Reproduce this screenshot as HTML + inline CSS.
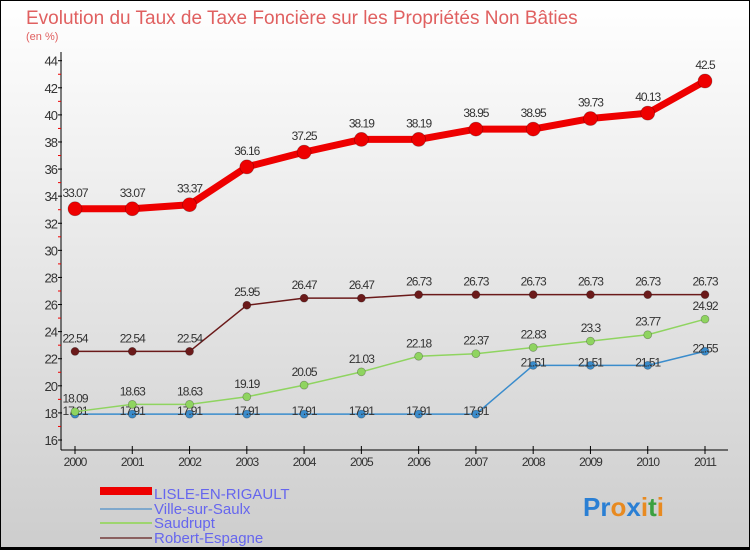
<!DOCTYPE html>
<html><head><meta charset="utf-8"><style>
body{margin:0}
#c{width:750px;height:550px;position:relative;overflow:hidden;font-family:"Liberation Sans",sans-serif}
</style></head><body>
<div id="c">
<svg id="s" width="750" height="550" xmlns="http://www.w3.org/2000/svg">
<defs><linearGradient id="bg" x1="0" y1="0" x2="0" y2="1"><stop offset="0" stop-color="#ffffff"/><stop offset="1" stop-color="#cdcdcd"/></linearGradient></defs>
<rect x="0.5" y="0.5" width="749" height="548" fill="url(#bg)" stroke="#000"/>
<rect x="0" y="547" width="750" height="3" fill="#000"/>
<text x="26" y="24" font-size="19" fill="#e06060">Evolution du Taux de Taxe Foncière sur les Propriétés Non Bâties</text>
<text x="26" y="40" font-size="11" fill="#e06060">(en %)</text>
<g id="axes"></g><g id="series"></g>
<g>
<rect x="100" y="487" width="52" height="8" fill="#ee0000"/>
<rect x="100" y="508" width="52" height="2" fill="#7fa8cc"/>
<rect x="100" y="522" width="52" height="2" fill="#9ed56f"/>
<rect x="100" y="537" width="52" height="2" fill="#8a6060"/>
<text x="154" y="499" font-size="15" fill="#6666ee">LISLE-EN-RIGAULT</text>
<text x="154" y="514" font-size="15" fill="#6666ee">Ville-sur-Saulx</text>
<text x="154" y="528" font-size="15" fill="#6666ee">Saudrupt</text>
<text x="154" y="543" font-size="15" fill="#6666ee">Robert-Espagne</text>
</g>
<g font-size="26" font-weight="bold">
<text x="583" y="516"><tspan fill="#2a7fd4">Pr</tspan><tspan fill="#e88a20">o</tspan><tspan fill="#2a7fd4">x</tspan><tspan fill="#e88a20">i</tspan><tspan fill="#3aa040">t</tspan><tspan fill="#e88a20">i</tspan></text>
</g>
</svg>
</div>
<script>
const years=["2000","2001","2002","2003","2004","2005","2006","2007","2008","2009","2010","2011"];
const yTicks=[16,18,20,22,24,26,28,30,32,34,36,38,40,42,44];
const lisle=[33.07,33.07,33.37,36.16,37.25,38.19,38.19,38.95,38.95,39.73,40.13,42.5];
const lisleLabels=["33.07","33.07","33.37","36.16","37.25","38.19","38.19","38.95","38.95","39.73","40.13","42.5"];
const ville=[17.91,17.91,17.91,17.91,17.91,17.91,17.91,17.91,21.51,21.51,21.51,22.55];
const villeLabels=["17.91","17.91","17.91","17.91","17.91","17.91","17.91","17.91","21.51","21.51","21.51","22.55"];
const saud=[18.09,18.63,18.63,19.19,20.05,21.03,22.18,22.37,22.83,23.3,23.77,24.92];
const saudLabels=["18.09","18.63","18.63","19.19","20.05","21.03","22.18","22.37","22.83","23.3","23.77","24.92"];
const rob=[22.54,22.54,22.54,25.95,26.47,26.47,26.73,26.73,26.73,26.73,26.73,26.73];
const robLabels=["22.54","22.54","22.54","25.95","26.47","26.47","26.73","26.73","26.73","26.73","26.73","26.73"];
const NS="http://www.w3.org/2000/svg";
const X=i=>75+i*(705-75)/(years.length-1);
const Y=v=>440-(v-16)*(440-60.7)/28;
function mk(t,a,p){const e=document.createElementNS(NS,t);for(const k in a)e.setAttribute(k,a[k]);p.appendChild(e);return e;}
const ax=document.getElementById('axes');
let e=mk('line',{x1:61,y1:52,x2:61,y2:450,stroke:'#000'},ax);


e=mk('line',{x1:61,y1:450,x2:728,y2:450,stroke:'#000'},ax);


yTicks.forEach((v,i)=>{
 mk('line',{x1:58,y1:Y(v),x2:62,y2:Y(v),stroke:'#000'},ax);
 if(i<yTicks.length-1) mk('line',{x1:58,y1:Y(v+1),x2:61,y2:Y(v+1),stroke:'#e00'},ax);
 const t=mk('text',{x:57,y:Y(v)+5,'font-size':13,'text-anchor':'end',fill:'#333','letter-spacing':'-1'},ax);
 t.textContent=v;
 
 
});
years.forEach((y,i)=>{
 mk('line',{x1:X(i),y1:446,x2:X(i),y2:454,stroke:'#000'},ax);
 const t=mk('text',{x:X(i),y:466,'font-size':12,'text-anchor':'middle',fill:'#333','letter-spacing':'-1'},ax);
 t.textContent=y;
 
 
});
const sg=document.getElementById('series');
function series(vals,labs,color,w,r,name,dy){
 const g=mk('g',{},sg);
 
 
 mk('polyline',{points:vals.map((v,i)=>X(i)+','+Y(v)).join(' '),fill:'none',stroke:color,'stroke-width':w,'stroke-linejoin':'round'},g);
 vals.forEach((v,i)=>{
  const c=mk('circle',{cx:X(i),cy:Y(v),r:r,fill:color,stroke:'rgba(0,0,0,0.3)','stroke-width':0.7},g);
  
  
  const t=mk('text',{x:X(i),y:Y(v)-dy,'font-size':12,'text-anchor':'middle',fill:'#333','letter-spacing':'-1'},g);
  t.textContent=labs[i];
  
  
 });
}
series(rob,robLabels,'#6b1a1a',1.5,4,'series-robert-espagne',9);
series(ville,villeLabels,'#3a8ccc',1.5,4,'series-ville-sur-saulx',-1);
series(saud,saudLabels,'#8fd460',1.5,4,'series-saudrupt',9);
series(lisle,lisleLabels,'#ee0000',7,7,'series-lisle-en-rigault',12);
</script>
</body></html>
